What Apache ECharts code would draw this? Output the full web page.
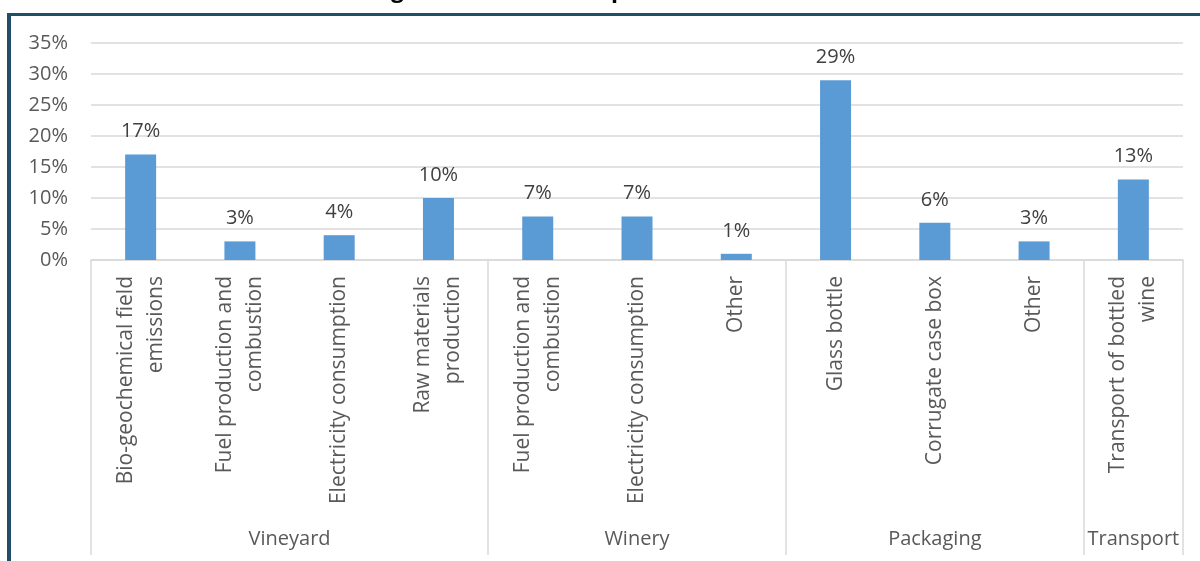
<!DOCTYPE html>
<html>
<head>
<meta charset="utf-8">
<script src="https://cdn.jsdelivr.net/npm/echarts@6/dist/echarts.min.js"></script>
<style>
  html, body { margin: 0; padding: 0; background: #fff; }
  #chart { width: 1200px; height: 561px; }
</style>
</head>
<body>
<div id="chart"></div>
<script>
// categories (sub-level) and their values in %
const categories = [
  "Bio-geochemical field\nemissions",
  "Fuel production and\ncombustion",
  "Electricity consumption",
  "Raw materials\nproduction",
  "Fuel production and\ncombustion",
  "Electricity consumption",
  "Other",
  "Glass bottle",
  "Corrugate case box",
  "Other",
  "Transport of bottled\nwine"
];
const values = [17, 3, 4, 10, 7, 7, 1, 29, 6, 3, 13];

// top level groups
const groupNames = ["Vineyard", "Winery", "Packaging", "Transport"];
const groupSizes = [4, 3, 3, 1];

const yTicks = { min: 0, max: 35, interval: 5 };
const titleText = "Figure 3. Carbon footprint of bottled wine";

// group boundaries and centers on a 0..n value scale
const bounds = [0];
const centers = [];
groupSizes.forEach((s) => {
  const start = bounds[bounds.length - 1];
  centers.push(start + s / 2);
  bounds.push(start + s);
});
const centerName = {};
centers.forEach((c, i) => { centerName[c] = groupNames[i]; });

const FONT = "Open Sans";
const GREY = "#595959";
const LINE = "#d9d9d9";

const myChart = echarts.init(document.getElementById("chart"));
const option = {
  animation: false,
  graphic: [
    {
      // title is cut off by the top edge in the source picture
      type: "text",
      x: 610,
      y: 2,
      style: {
        text: titleText,
        font: "bold 23px " + FONT,
        fill: "#000",
        align: "center",
        verticalAlign: "bottom"
      }
    },
    {
      type: "rect",
      shape: { x: 7, y: 13, width: 1193, height: 3 },
      style: { fill: "#1f4e66" }
    },
    {
      type: "rect",
      shape: { x: 7, y: 13, width: 4, height: 548 },
      style: { fill: "#1f4e66" }
    }
  ],
  grid: {
    left: 91,
    right: 17,
    top: 43,
    bottom: 301
  },
  xAxis: [
    {
      type: "category",
      data: categories,
      axisLine: { lineStyle: { color: LINE, width: 1.5 } },
      axisTick: { show: false },
      axisLabel: {
        interval: 0,
        rotate: 90,
        margin: 16,
        fontFamily: FONT,
        fontSize: 21,
        lineHeight: 30,
        color: GREY
      }
    },
    {
      type: "value",
      min: 0,
      max: categories.length,
      position: "bottom",
      axisLine: { show: false },
      splitLine: { show: false },
      axisTick: {
        show: true,
        customValues: bounds,
        length: 295,
        lineStyle: { color: LINE, width: 1.5 }
      },
      axisLabel: {
        customValues: centers,
        margin: 269,
        fontFamily: FONT,
        fontSize: 20,
        color: GREY,
        formatter: (v) => centerName[v] || ""
      }
    }
  ],
  yAxis: {
    type: "value",
    min: yTicks.min,
    max: yTicks.max,
    interval: yTicks.interval,
    axisLine: { show: false },
    axisTick: { show: false },
    splitLine: { lineStyle: { color: LINE, width: 1.5 } },
    axisLabel: {
      margin: 23,
      fontFamily: FONT,
      fontSize: 20,
      color: GREY,
      formatter: "{value}%"
    }
  },
  series: [
    {
      type: "bar",
      data: values,
      barWidth: 31,
      itemStyle: { color: "#5b9bd5" },
      label: {
        show: true,
        position: "top",
        distance: 13,
        fontFamily: FONT,
        fontSize: 20,
        color: "#404040",
        formatter: "{c}%"
      }
    }
  ]
};
myChart.setOption(option);
window.addEventListener("resize", myChart.resize);
</script>
</body>
</html>
